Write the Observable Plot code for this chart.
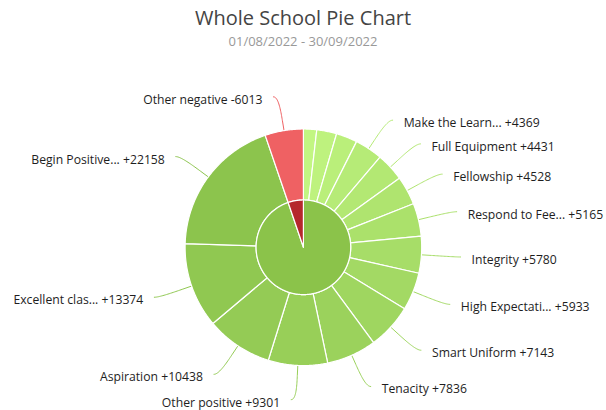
<!DOCTYPE html>
<html>
<head>
<meta charset="utf-8">
<script src="https://cdn.jsdelivr.net/npm/d3@7"></script>
<script src="https://cdn.jsdelivr.net/npm/@observablehq/plot@0.6"></script>
<style>
  body { margin: 0; background: #fff; font-family: "Open Sans", sans-serif; }
  #wrap { position: relative; width: 606px; height: 410px; }
  #head { position: relative; width: 606px; height: 55px; }
  #title { position: absolute; left: 0; width: 606px; top: 8px; text-align: center; font-size: 20px; line-height: 20px; color: #444; }
  #subtitle { position: absolute; left: 0; width: 606px; top: 35px; text-align: center; font-size: 13px; line-height: 13px; color: #999; }
</style>
</head>
<body>
<div id="wrap">
  <div id="head"><div id="title"></div><div id="subtitle"></div></div>
  <div id="chart"></div>
</div>
<script>
// ---- data ----
const titleText = "Whole School Pie Chart";
const subtitleText = "01/08/2022 - 30/09/2022";
const outerCategories = ["Unlabelled 1", "Unlabelled 2", "Unlabelled 3", "Make the Learn...", "Full Equipment", "Fellowship", "Respond to Fee...", "Integrity", "High Expectati...", "Smart Uniform", "Tenacity", "Other positive", "Aspiration", "Excellent clas...", "Begin Positive...", "Other negative"];
const outerValues = [2076, 3131, 3322, 4369, 4431, 4528, 5165, 5780, 5933, 7143, 7836, 9301, 10438, 13374, 22158, -6013];
const outerLabelled = [false, false, false, true, true, true, true, true, true, true, true, true, true, true, true, true];
const innerCategories = ["Positive", "Negative"];

document.getElementById("title").textContent = titleText;
document.getElementById("subtitle").textContent = subtitleText;

// ---- layout ----
const W = 606, H = 355, CX = 302.9, CY = 191.8;
const R_OUT = 118.3, R_IN = 47.3;
const LABEL_R = 152.5;

const outer = outerCategories.map((name, i) => ({
  name, value: outerValues[i], labelled: outerLabelled[i],
  group: outerValues[i] >= 0 ? "Positive" : "Negative"
}));
const inner = innerCategories.map(g => ({
  name: g, value: d3.sum(outer.filter(d => d.group === g), d => Math.abs(d.value))
}));

const pie = d3.pie().sort(null).value(d => Math.abs(d.value));
const outerArcs = pie(outer);
const innerArcs = pie(inner);

const positives = outer.filter(d => d.group === "Positive").slice().sort((a, b) => a.value - b.value);
const green = d3.interpolateRgb("#c2f682", "#8cc44d");
function outerColor(d) {
  if (d.group === "Negative") return "#ef6163";
  return green(positives.indexOf(d) / (positives.length - 1));
}
const innerColor = { Positive: "#8bc34a", Negative: "#b5282c" };

function polygon(id, a0, a1, r0, r1, fill) {
  const pts = [];
  const n = Math.max(2, Math.ceil((a1 - a0) / (Math.PI / 360)));
  for (let k = 0; k <= n; k++) {
    const a = a0 + (a1 - a0) * k / n;
    pts.push({ id, fill, x: r1 * Math.sin(a), y: r1 * Math.cos(a) });
  }
  if (r0 > 0) {
    for (let k = n; k >= 0; k--) {
      const a = a0 + (a1 - a0) * k / n;
      pts.push({ id, fill, x: r0 * Math.sin(a), y: r0 * Math.cos(a) });
    }
  } else {
    pts.push({ id, fill, x: 0, y: 0 });
  }
  return pts;
}

const slices = [];
outerArcs.forEach((a, i) => slices.push(...polygon("o" + i, a.startAngle, a.endAngle, R_IN, R_OUT, outerColor(a.data))));
innerArcs.forEach((a, i) => slices.push(...polygon("i" + i, a.startAngle, a.endAngle, 0, R_IN, innerColor[a.data.name])));

const connectors = [];
const labels = [];
outerArcs.forEach((arc, i) => {
  if (!arc.data.labelled) return;
  const a = (arc.startAngle + arc.endAngle) / 2;
  const s = Math.sin(a), c = Math.cos(a);
  const side = s >= 0 ? 1 : -1;
  const ex = LABEL_R * s + side * 5;
  const ey = LABEL_R * c;
  const P0 = [ex, ey], P1 = [ex - side * 5, ey];
  const P2 = [(R_OUT + 20) * s, (R_OUT + 20) * c];
  const P3 = [(R_OUT + 10) * s, (R_OUT + 10) * c];
  const col = outerColor(arc.data);
  for (let k = 0; k <= 24; k++) {
    const t = k / 24, u = 1 - t;
    const x = u*u*u*P0[0] + 3*u*u*t*P1[0] + 3*u*t*t*P2[0] + t*t*t*P3[0];
    const y = u*u*u*P0[1] + 3*u*u*t*P1[1] + 3*u*t*t*P2[1] + t*t*t*P3[1];
    connectors.push({ id: "c" + i, x, y, col });
  }
  connectors.push({ id: "c" + i, x: R_OUT * s, y: R_OUT * c, col });
  const v = arc.data.value;
  labels.push({ side, x: ex + side * 11, y: ey - 3, label: arc.data.name + " " + (v > 0 ? "+" : "") + v });
});

const chart = Plot.plot({
  width: W, height: H, margin: 0,
  style: { fontFamily: "'Open Sans', sans-serif", background: "#fff" },
  x: { domain: [-CX, W - CX], axis: null },
  y: { domain: [-(H - CY), CY], axis: null },
  marks: [
    Plot.line(connectors, { x: "x", y: "y", z: "id", stroke: "col", strokeWidth: 1, curve: "linear" }),
    Plot.line(slices, { x: "x", y: "y", z: "id", fill: "fill", stroke: "#ffffff", strokeWidth: 1.2, curve: "linear-closed" }),
    Plot.text(labels.filter(d => d.side > 0), { x: "x", y: "y", text: "label", textAnchor: "start", fontSize: 12.2, fill: "#1e1e1e" }),
    Plot.text(labels.filter(d => d.side < 0), { x: "x", y: "y", text: "label", textAnchor: "end", fontSize: 12.2, fill: "#1e1e1e" })
  ]
});
document.getElementById("chart").appendChild(chart);
</script>
</body>
</html>
